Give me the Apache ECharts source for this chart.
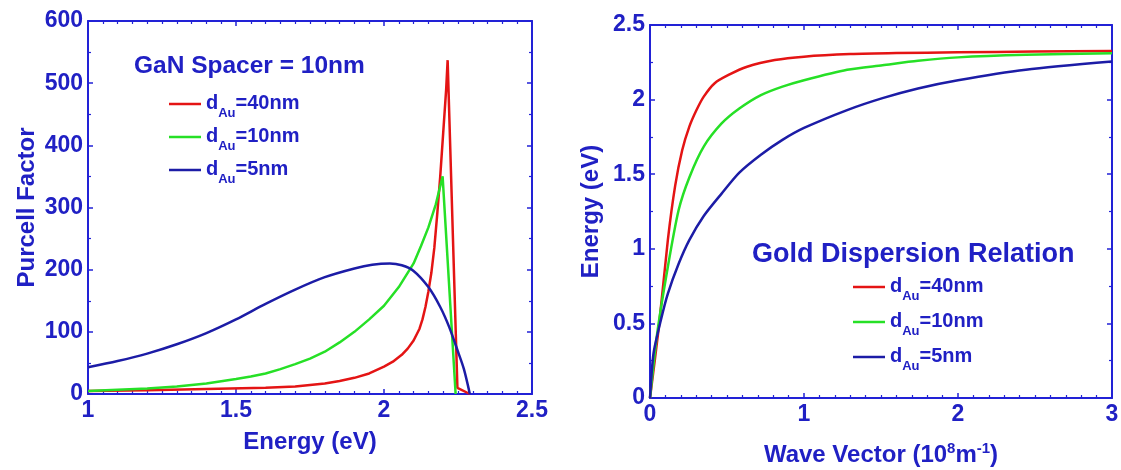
<!DOCTYPE html>
<html><head><meta charset="utf-8">
<script src="https://cdn.jsdelivr.net/npm/echarts@6/dist/echarts.min.js"></script>
<style>html,body{margin:0;padding:0;background:#fff}#c{width:1121px;height:470px}</style>
</head><body><div id="c"></div>
<script>
// ---------- Left panel: Purcell factor vs energy ----------
const purcellE40 = [1.0, 1.2, 1.4, 1.6, 1.7, 1.8, 1.85, 1.9, 1.95, 2.0, 2.03, 2.06, 2.08, 2.1, 2.12, 2.13, 2.14, 2.15, 2.16, 2.17, 2.18, 2.19, 2.2, 2.21, 2.215, 2.248, 2.29];
const purcellP40 = [5, 6, 8, 10, 12, 17, 21, 26, 33, 44, 52, 63, 73, 86, 105, 120, 140, 165, 195, 235, 290, 350, 420, 490, 537, 10, 0];
const purcellE10 = [1.0, 1.1, 1.2, 1.3, 1.4, 1.5, 1.55, 1.6, 1.65, 1.7, 1.75, 1.8, 1.85, 1.9, 1.95, 2.0, 2.05, 2.1, 2.125, 2.15, 2.175, 2.198, 2.242];
const purcellP10 = [5, 7, 9, 12, 17, 24, 28, 33, 40, 48, 57, 68, 83, 100, 120, 142, 172, 210, 238, 268, 305, 350, 0];
const purcellE5 = [1.0, 1.1, 1.2, 1.3, 1.4, 1.5, 1.6, 1.7, 1.8, 1.9, 1.96, 2.02, 2.06, 2.1, 2.15, 2.19, 2.22, 2.25, 2.27, 2.29];
const purcellP5 = [43, 53, 65, 80, 98, 120, 145, 168, 188, 202, 208, 210, 207, 198, 172, 140, 108, 68, 40, 0];

// ---------- Right panel: dispersion relation ----------
const dispK40 = [0, 0.058, 0.116, 0.163, 0.209, 0.256, 0.302, 0.349, 0.42, 0.51, 0.63, 0.81, 1.0, 1.3, 1.6, 2.0, 2.5, 3.0];
const dispE40 = [0, 0.48, 1.06, 1.42, 1.66, 1.82, 1.93, 2.02, 2.11, 2.165, 2.22, 2.265, 2.288, 2.305, 2.312, 2.317, 2.322, 2.325];
const dispK10 = [0, 0.047, 0.116, 0.186, 0.256, 0.349, 0.465, 0.58, 0.72, 0.86, 1.0, 1.28, 1.51, 1.74, 2.0, 2.44, 3.0];
const dispE10 = [0, 0.435, 0.88, 1.26, 1.48, 1.685, 1.84, 1.94, 2.03, 2.087, 2.13, 2.2, 2.23, 2.26, 2.283, 2.3, 2.31];
const dispK5 = [0, 0.023, 0.07, 0.116, 0.186, 0.256, 0.349, 0.465, 0.58, 0.72, 0.86, 1.0, 1.28, 1.51, 1.74, 2.0, 2.44, 3.0];
const dispE5 = [0, 0.3, 0.52, 0.70, 0.90, 1.06, 1.22, 1.37, 1.51, 1.63, 1.73, 1.81, 1.93, 2.01, 2.075, 2.13, 2.2, 2.255];

const thicknessLabels = ['40nm', '10nm', '5nm'];
const seriesNames = thicknessLabels.map(t => 'dAu=' + t);

const leftTitle = 'GaN Spacer = 10nm';
const rightTitle = 'Gold Dispersion Relation';

const TXT = '#2020c4';
const AX = '#2222d6';
const RED = '#e41414';
const GREEN = '#26e026';
const BLUE = '#1c1ca6';
const FONT = 'Liberation Sans, Arial, sans-serif';

const zip = (a, b) => a.map((v, i) => [v, b[i]]);

function axis(gridIndex, min, max, interval, minorSplit, position, showLabel, extra) {
  return Object.assign({
    type: 'value', gridIndex, min, max, interval, position,
    nameMoveOverlap: false,
    axisLine: { show: true, onZero: false, lineStyle: { color: AX, width: 2 } },
    axisTick: { show: true, inside: true, length: 5, lineStyle: { color: AX, width: 1.5 } },
    minorTick: { show: true, splitNumber: minorSplit, length: 3, lineStyle: { color: AX, width: 1.2 } },
    splitLine: { show: false },
    minorSplitLine: { show: false },
    axisLabel: { show: showLabel, color: TXT, fontSize: 23, fontWeight: 'bold', fontFamily: FONT, margin: 5 }
  }, extra || {});
}

const nameStyle = { color: TXT, fontSize: 24, fontWeight: 'bold', fontFamily: FONT, lineHeight: 28 };

const legendRich = {
  d: { fontSize: 20, fontWeight: 'bold', color: TXT, fontFamily: FONT, lineHeight: 22, verticalAlign: 'top' },
  s: { fontSize: 13, fontWeight: 'bold', color: TXT, fontFamily: FONT, lineHeight: 14, padding: [14, 0, 0, 0], verticalAlign: 'top' },
  t: { fontSize: 20, fontWeight: 'bold', color: TXT, fontFamily: FONT, lineHeight: 22, verticalAlign: 'top' }
};
const legendFmt = name => '{d|d}{s|Au}{t|=' + name.split('=')[1] + '}';

function lineSeries(name, data, color, xi, yi, smooth) {
  return {
    type: 'line', name, data, xAxisIndex: xi, yAxisIndex: yi,
    showSymbol: false, symbol: 'none', smooth: smooth,
    lineStyle: { color, width: 2.5 }, itemStyle: { color },
    animation: false, z: 3
  };
}

const legendBase = {
  data: seriesNames, orient: 'vertical', padding: 0,
  icon: 'rect', itemWidth: 32, itemHeight: 2.5,
  formatter: legendFmt, textStyle: { rich: legendRich }, selectedMode: false
};

const option = {
  backgroundColor: '#ffffff',
  animation: false,
  title: [
    { text: leftTitle, left: 134, top: 52, padding: 0,
      textStyle: { color: TXT, fontSize: 24.5, fontWeight: 'bold', fontFamily: FONT, lineHeight: 28 } },
    { text: rightTitle, left: 752, top: 240, padding: 0,
      textStyle: { color: TXT, fontSize: 27, fontWeight: 'bold', fontFamily: FONT, lineHeight: 30 } }
  ],
  grid: [
    { left: 88, top: 21, width: 444, height: 373, outerBoundsMode: 'none', containLabel: false },
    { left: 650, top: 25, width: 462, height: 373, outerBoundsMode: 'none', containLabel: false }
  ],
  legend: [
    Object.assign({}, legendBase, { left: 169, top: 93, itemGap: 6 }),
    Object.assign({}, legendBase, { left: 853, top: 276, itemGap: 8 })
  ],
  xAxis: [
    axis(0, 1, 2.5, 0.5, 10, 'bottom', true, {
      name: 'Energy (eV)', nameLocation: 'middle', nameGap: 34, nameTextStyle: nameStyle }),
    axis(0, 1, 2.5, 0.5, 10, 'top', false),
    axis(1, 0, 3, 1, 10, 'bottom', true, {
      name: 'Wave Vector (10{sup|8}m{sup|-1})', nameLocation: 'middle', nameGap: 43,
      nameTextStyle: Object.assign({}, nameStyle, {
        rich: {
          sup: { fontSize: 15, fontWeight: 'bold', color: TXT, fontFamily: FONT, lineHeight: 16, padding: [0, 0, 20, 0], verticalAlign: 'top' }
        }
      }) }),
    axis(1, 0, 3, 1, 10, 'top', false)
  ],
  yAxis: [
    axis(0, 0, 600, 100, 2, 'left', true, {
      name: 'Purcell Factor', nameLocation: 'middle', nameGap: 47, nameTextStyle: nameStyle }),
    axis(0, 0, 600, 100, 2, 'right', false),
    axis(1, 0, 2.5, 0.5, 2, 'left', true, {
      name: 'Energy (eV)', nameLocation: 'middle', nameGap: 45, nameTextStyle: nameStyle }),
    axis(1, 0, 2.5, 0.5, 2, 'right', false)
  ],
  series: [
    lineSeries(seriesNames[0], zip(purcellE40, purcellP40), RED, 0, 0, false),
    lineSeries(seriesNames[1], zip(purcellE10, purcellP10), GREEN, 0, 0, false),
    lineSeries(seriesNames[2], zip(purcellE5, purcellP5), BLUE, 0, 0, 0.3),
    lineSeries(seriesNames[0], zip(dispK40, dispE40), RED, 2, 2, 0.25),
    lineSeries(seriesNames[1], zip(dispK10, dispE10), GREEN, 2, 2, 0.25),
    lineSeries(seriesNames[2], zip(dispK5, dispE5), BLUE, 2, 2, 0.25)
  ]
};

const chart = echarts.init(document.getElementById('c'), null, { renderer: 'canvas' });
chart.setOption(option);
</script>
</body></html>
